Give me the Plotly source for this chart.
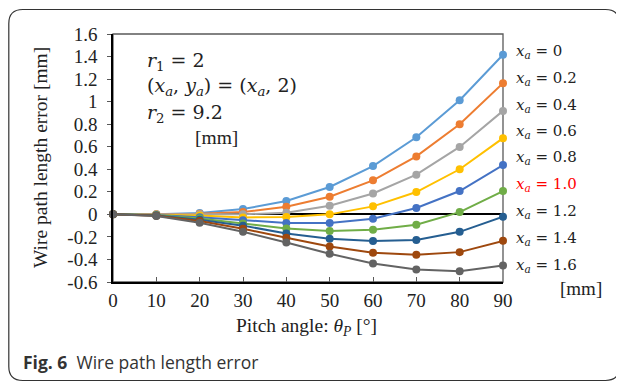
import plotly.graph_objects as go

# ---- data ----
pitch_angles = [0, 10, 20, 30, 40, 50, 60, 70, 80, 90]
series_names = ["0", "0.2", "0.4", "0.6", "0.8", "1.0", "1.2", "1.4", "1.6"]
err_xa_0_0 = [0, 0.002, 0.012, 0.047, 0.118, 0.243, 0.428, 0.684, 1.013, 1.416]
err_xa_0_2 = [0, 0.000, 0.006, 0.020, 0.068, 0.157, 0.302, 0.514, 0.800, 1.164]
err_xa_0_4 = [0, -0.002, 0.000, 0.000, 0.015, 0.077, 0.185, 0.352, 0.598, 0.918]
err_xa_0_6 = [0, -0.004, -0.010, -0.027, -0.024, 0.000, 0.071, 0.198, 0.400, 0.676]
err_xa_0_8 = [0, -0.006, -0.025, -0.053, -0.077, -0.077, -0.039, 0.056, 0.207, 0.438]
err_xa_1_0 = [0, -0.008, -0.037, -0.080, -0.125, -0.148, -0.137, -0.092, 0.020, 0.207]
err_xa_1_2 = [0, -0.010, -0.047, -0.100, -0.169, -0.217, -0.237, -0.228, -0.155, -0.021]
err_xa_1_4 = [0, -0.012, -0.058, -0.128, -0.208, -0.285, -0.341, -0.359, -0.335, -0.235]
err_xa_1_6 = [0, -0.015, -0.074, -0.154, -0.249, -0.350, -0.436, -0.489, -0.504, -0.453]
all_series = [err_xa_0_0, err_xa_0_2, err_xa_0_4, err_xa_0_6, err_xa_0_8,
              err_xa_1_0, err_xa_1_2, err_xa_1_4, err_xa_1_6]

y_tick_vals = [-0.6, -0.4, -0.2, 0, 0.2, 0.4, 0.6, 0.8, 1.0, 1.2, 1.4, 1.6]
y_tick_text = ["-0.6", "-0.4", "-0.2", "0", "0.2", "0.4", "0.6", "0.8", "1", "1.2", "1.4", "1.6"]
x_tick_vals = [0, 10, 20, 30, 40, 50, 60, 70, 80, 90]

# ---- style ----
colors = ["#5B9BD5", "#ED7D31", "#A5A5A5", "#FFC000", "#4472C4",
          "#70AD47", "#255E91", "#9E480E", "#636363"]
label_colors = ["#222"] * 9
label_colors[5] = "#FF0000"

OFF = 8  # page body margin of the html page
W, H = 624 - OFF, 383 - OFF
L, R, T, B = 113 - OFF, 503 - OFF, 34 - OFF, 282 - OFF
serif = "Liberation Serif"
mathf = "DejaVu Serif"


def px(xs):
    return (xs - OFF - L) / (R - L)


def py(ys):
    return (B - (ys - OFF)) / (B - T)


fig = go.Figure()
for name, vals, c in zip(series_names, all_series, colors):
    fig.add_trace(go.Scatter(
        x=pitch_angles, y=vals, mode="lines+markers", name=name,
        line=dict(color=c, width=2), marker=dict(color=c, size=8),
        cliponaxis=False, showlegend=False))

shapes = [
    dict(type="rect", xref="paper", yref="paper", x0=0, x1=1, y0=0, y1=1,
         line=dict(color="#595959", width=1.3), layer="below"),
]
x0, x1, y0, y1, r = 8.8, 619.5, 9.5, 380.5, 14
path = (f"M {px(x0 + r)},{py(y0)} L {px(x1 - r)},{py(y0)} "
        f"Q {px(x1)},{py(y0)} {px(x1)},{py(y0 + r)} "
        f"L {px(x1)},{py(y1 - r)} Q {px(x1)},{py(y1)} {px(x1 - r)},{py(y1)} "
        f"L {px(x0 + r)},{py(y1)} Q {px(x0)},{py(y1)} {px(x0)},{py(y1 - r)} "
        f"L {px(x0)},{py(y0 + r)} Q {px(x0)},{py(y0)} {px(x0 + r)},{py(y0)} Z")
shapes.append(dict(type="path", xref="paper", yref="paper", path=path,
                   line=dict(color="#333", width=1.2), layer="below"))

annotations = []
label_y = [51.7, 78.7, 105.3, 131.7, 157.7, 184.3, 211.7, 238.3, 265.3]
for name, ly, lc in zip(series_names, label_y, label_colors):
    annotations.append(dict(
        xref="paper", yref="paper", x=px(514), y=py(ly), xanchor="left", yanchor="middle",
        text=f"<i>x</i><sub><i>a</i></sub> = {name}", showarrow=False,
        font=dict(family=mathf, size=15, color=lc)))
annotations.append(dict(xref="paper", yref="paper", x=px(581), y=py(288), text="[mm]",
                        xanchor="center", yanchor="middle",
                        showarrow=False, font=dict(family=serif, size=19, color="#222")))

info = [("<i>r</i><sub>1</sub> = 2", 145, 61, mathf),
        ("(<i>x</i><sub><i>a</i></sub>, <i>y</i><sub><i>a</i></sub>) = (<i>x</i><sub><i>a</i></sub>, 2)", 145, 86, mathf),
        ("<i>r</i><sub>2</sub> = 9.2", 145, 113, mathf),
        ("[mm]", 193, 137, serif)]
for t, xx, yy, f in info:
    annotations.append(dict(xref="paper", yref="paper", x=px(xx), y=py(yy), xanchor="left",
                            yanchor="middle", text=t, showarrow=False,
                            font=dict(family=f, size=19 if f == mathf else 19.5, color="#222")))

annotations.append(dict(xref="paper", yref="paper", x=px(40), y=py(158), textangle=-90,
                        xanchor="center", yanchor="middle",
                        text="Wire path length error [mm]", showarrow=False,
                        font=dict(family=serif, size=19.5, color="#222")))
annotations.append(dict(xref="paper", yref="paper", x=px(306), y=py(327),
                        xanchor="center", yanchor="middle",
                        text="Pitch angle: <i>θ</i><sub><i>P</i></sub> [°]", showarrow=False,
                        font=dict(family=serif, size=19.5, color="#222")))
annotations.append(dict(xref="paper", yref="paper", x=px(21), y=py(362), xanchor="left",
                        yanchor="middle",
                        text="<b>Fig. 6</b>  Wire path length error", showarrow=False,
                        font=dict(family="Open Sans", size=17.5, color="#333")))

fig.update_layout(
    width=W, height=H, margin=dict(l=L, r=W - R, t=T, b=H - B, autoexpand=False),
    paper_bgcolor="white", plot_bgcolor="white",
    shapes=shapes, annotations=annotations,
    xaxis=dict(range=[0, 90], tickvals=x_tick_vals, ticks="inside", ticklen=5,
               tickcolor="#595959", showline=True, linecolor="black", linewidth=1.5,
               showgrid=False, zeroline=False,
               tickfont=dict(family=serif, size=19, color="#222")),
    yaxis=dict(range=[-0.6, 1.6], tickvals=y_tick_vals, ticktext=y_tick_text,
               ticks="outside", ticklen=4, tickcolor="#595959", showline=True,
               linecolor="black", linewidth=1.5, showgrid=False,
               zeroline=True, zerolinecolor="black", zerolinewidth=2,
               ticklabelstandoff=6,
               tickfont=dict(family=serif, size=19, color="#222")),
)

fig.write_html("out.html")
